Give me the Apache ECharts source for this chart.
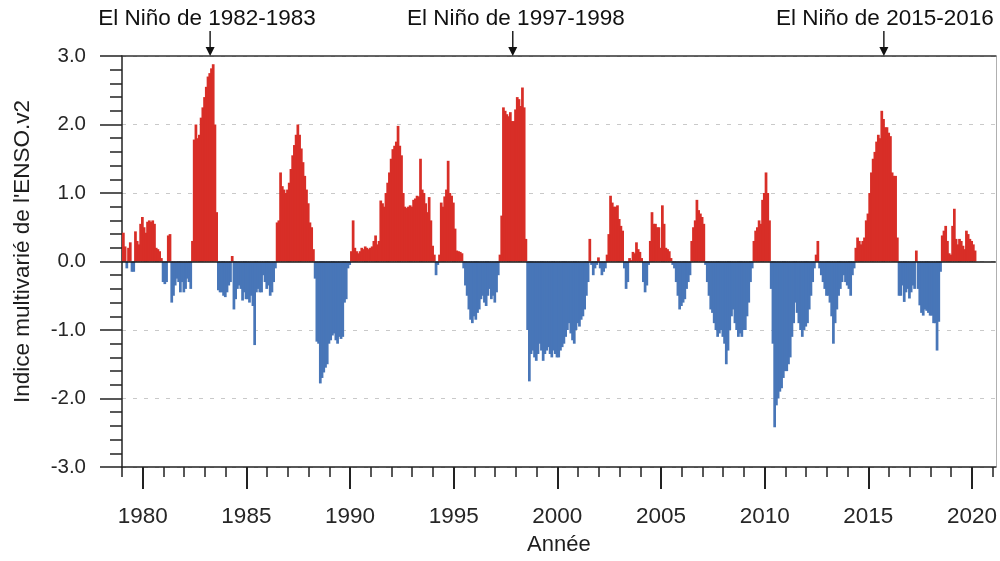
<!DOCTYPE html>
<html>
<head>
<meta charset="utf-8">
<script src="https://cdn.jsdelivr.net/npm/echarts@6/dist/echarts.min.js"></script>
<style>
  html, body { margin: 0; padding: 0; background: #fff; }
  #chart { width: 1000px; height: 561px; }
</style>
</head>
<body>
<div id="chart"></div>
<script>
// Multivariate ENSO Index (MEI.v2), monthly values, Jan 1979 onward
const mei1979 = [0.42, 0.22, -0.10, 0.20, 0.28, -0.15, -0.15, 0.44, 0.30, 0.25, 0.55, 0.65];
const mei1980 = [0.50, 0.42, 0.58, 0.60, 0.58, 0.60, 0.55, 0.20, 0.18, 0.15, 0.05, -0.30];
const mei1981 = [-0.33, -0.30, 0.38, 0.40, -0.60, -0.50, -0.35, -0.25, -0.30, -0.45, -0.30, -0.45];
const mei1982 = [-0.40, -0.25, -0.30, -0.40, 0.30, 1.78, 2.00, 1.80, 1.85, 2.10, 2.25, 2.40];
const mei1983 = [2.55, 2.70, 2.75, 2.82, 2.88, 2.00, 0.72, -0.42, -0.45, -0.45, -0.50, -0.52];
const mei1984 = [-0.45, -0.35, -0.30, 0.08, -0.70, -0.55, -0.40, -0.35, -0.40, -0.57, -0.45, -0.55];
const mei1985 = [-0.55, -0.60, -0.50, -0.65, -1.22, -0.45, -0.40, -0.45, -0.45, -0.20, -0.30, -0.40];
const mei1986 = [-0.35, -0.50, -0.45, -0.30, -0.10, 0.57, 0.60, 1.30, 1.10, 1.05, 1.00, 1.05];
const mei1987 = [1.15, 1.35, 1.55, 1.70, 1.85, 2.00, 1.85, 1.65, 1.45, 1.25, 1.05, 0.85];
const mei1988 = [0.57, 0.50, 0.18, -0.25, -1.17, -1.20, -1.78, -1.70, -1.62, -1.55, -1.50, -1.20];
const mei1989 = [-1.15, -1.08, -1.05, -1.15, -1.20, -1.10, -1.13, -1.10, -0.60, -0.55, -0.10, -0.05];
const mei1990 = [0.15, 0.60, 0.20, 0.15, 0.12, 0.15, 0.20, 0.18, 0.22, 0.20, 0.18, 0.20];
const mei1991 = [0.22, 0.30, 0.38, 0.25, 0.30, 0.89, 0.85, 0.80, 1.00, 1.15, 1.30, 1.50];
const mei1992 = [1.64, 1.69, 1.75, 1.98, 1.69, 1.55, 1.00, 0.80, 0.78, 0.80, 0.82, 0.80];
const mei1993 = [0.90, 0.92, 0.96, 0.95, 1.50, 1.05, 1.00, 0.85, 0.72, 0.94, 0.60, 0.23];
const mei1994 = [0.10, -0.20, -0.05, 0.10, 0.86, 0.80, 0.95, 1.05, 1.47, 1.00, 0.96, 0.86];
const mei1995 = [0.48, 0.16, 0.15, 0.14, 0.12, -0.10, -0.35, -0.50, -0.70, -0.85, -0.90, -0.80];
const mei1996 = [-0.85, -0.75, -0.70, -0.55, -0.50, -0.60, -0.65, -0.50, -0.40, -0.55, -0.50, -0.60];
const mei1997 = [-0.45, -0.20, 0.10, 0.67, 2.25, 2.20, 2.15, 2.12, 2.18, 2.05, 2.05, 2.22];
const mei1998 = [2.40, 2.37, 2.27, 2.54, 2.25, 0.33, -1.00, -1.75, -1.35, -1.30, -1.40, -1.45];
const mei1999 = [-1.35, -1.20, -1.30, -1.45, -1.35, -1.30, -1.25, -1.35, -1.40, -1.30, -1.35, -1.40];
const mei2000 = [-1.40, -1.30, -1.25, -1.20, -1.10, -1.00, -0.90, -1.05, -1.15, -1.20, -1.00, -0.90];
const mei2001 = [-0.95, -0.85, -0.80, -0.70, -0.50, -0.30, 0.33, -0.05, -0.20, -0.10, -0.05, 0.06];
const mei2002 = [-0.10, -0.20, -0.15, -0.10, 0.10, 0.40, 0.96, 0.86, 0.80, 0.80, 0.82, 0.62];
const mei2003 = [0.52, 0.45, -0.10, -0.40, -0.30, 0.05, 0.02, 0.14, 0.12, 0.28, 0.18, 0.14];
const mei2004 = [0.05, -0.30, -0.45, -0.35, -0.05, 0.30, 0.72, 0.55, 0.55, 0.50, 0.50, 0.20];
const mei2005 = [0.82, 0.55, 0.20, 0.18, 0.15, 0.05, -0.05, -0.10, -0.30, -0.50, -0.70, -0.65];
const mei2006 = [-0.60, -0.55, -0.40, -0.30, -0.20, 0.30, 0.50, 0.60, 0.90, 0.75, 0.70, 0.65];
const mei2007 = [0.55, -0.05, -0.30, -0.50, -0.70, -0.75, -0.90, -1.00, -1.10, -1.05, -1.00, -1.10];
const mei2008 = [-1.20, -1.50, -1.30, -1.00, -0.80, -0.70, -0.90, -1.00, -1.10, -1.05, -1.10, -1.00];
const mei2009 = [-1.00, -0.80, -0.60, -0.30, -0.10, 0.30, 0.45, 0.50, 0.60, 0.55, 0.90, 1.00];
const mei2010 = [1.30, 1.00, 0.60, -0.40, -1.20, -2.42, -2.10, -2.00, -1.90, -1.85, -1.70, -1.60];
const mei2011 = [-1.60, -1.50, -1.40, -1.10, -0.90, -0.60, -0.75, -0.90, -1.00, -1.10, -1.00, -0.95];
const mei2012 = [-0.90, -0.70, -0.50, -0.30, -0.10, 0.10, 0.30, -0.10, -0.20, -0.30, -0.40, -0.50];
const mei2013 = [-0.50, -0.60, -0.80, -1.20, -0.90, -0.70, -0.50, -0.40, -0.30, -0.20, -0.30, -0.35];
const mei2014 = [-0.40, -0.50, -0.20, -0.10, 0.20, 0.35, 0.30, 0.25, 0.30, 0.35, 0.60, 0.70];
const mei2015 = [1.00, 1.30, 1.50, 1.60, 1.75, 1.85, 1.80, 2.20, 2.08, 1.96, 1.96, 1.88];
const mei2016 = [1.83, 1.30, 1.25, 1.25, 0.35, -0.50, -0.50, -0.35, -0.59, -0.45, -0.40, -0.54];
const mei2017 = [-0.45, -0.35, -0.40, 0.16, -0.40, -0.64, -0.75, -0.79, -0.70, -0.72, -0.75, -0.79];
const mei2018 = [-0.79, -0.90, -0.90, -1.30, -0.88, -0.15, 0.38, 0.45, 0.52, 0.30, 0.12, 0.10];
const mei2019 = [0.52, 0.77, 0.33, 0.25, 0.33, 0.30, 0.23, 0.18, 0.45, 0.40, 0.33, 0.30];
const mei2020 = [0.25, 0.16];

const firstYear = 1979;
const yearlyValues = [
  mei1979, mei1980, mei1981, mei1982, mei1983, mei1984, mei1985, mei1986, mei1987, mei1988,
  mei1989, mei1990, mei1991, mei1992, mei1993, mei1994, mei1995, mei1996, mei1997, mei1998,
  mei1999, mei2000, mei2001, mei2002, mei2003, mei2004, mei2005, mei2006, mei2007, mei2008,
  mei2009, mei2010, mei2011, mei2012, mei2013, mei2014, mei2015, mei2016, mei2017, mei2018,
  mei2019, mei2020
];

// Axis ticks
const yearTicks = [1979, 1980, 1981, 1982, 1983, 1984, 1985, 1986, 1987, 1988, 1989, 1990,
  1991, 1992, 1993, 1994, 1995, 1996, 1997, 1998, 1999, 2000, 2001, 2002, 2003, 2004, 2005,
  2006, 2007, 2008, 2009, 2010, 2011, 2012, 2013, 2014, 2015, 2016, 2017, 2018, 2019, 2020, 2021];
const yearLabels = [1980, 1985, 1990, 1995, 2000, 2005, 2010, 2015, 2020];

// Major El Niño events annotated above the plot
const eventNames = ['El Niño de 1982-1983', 'El Niño de 1997-1998', 'El Niño de 2015-2016'];
const eventArrowAt = [1983.25, 1997.85, 2015.75];
const eventLabelAt = [1983.1, 1998.0, 2015.8];

const RED = '#d82e27';
const BLUE = '#4876b8';
const FONT = 'Liberation Sans, Arial, Helvetica, sans-serif';

// month-by-month bar records: [start of month (decimal year), value]
const monthly = [];
yearlyValues.forEach((vals, k) => {
  vals.forEach((v, m) => monthly.push([firstYear + k + m / 12, v]));
});

const X_MIN = 1979, X_MAX = 2021.15;
const axisColor = '#222';

const chart = echarts.init(document.getElementById('chart'), null, { renderer: 'canvas' });

const option = {
  animation: false,
  backgroundColor: '#fff',
  grid: { left: 122, right: 2.5, top: 56, bottom: 92, containLabel: false },
  xAxis: [
    {
      type: 'value', min: X_MIN, max: X_MAX, position: 'bottom',
      axisLine: { show: true, onZero: false, lineStyle: { color: axisColor, width: 1.5 } },
      axisTick: { show: true, length: 10, customValues: yearTicks, lineStyle: { color: axisColor, width: 1.5 } },
      axisLabel: { show: false },
      splitLine: { show: false }
    },
    {
      type: 'value', min: X_MIN, max: X_MAX, position: 'bottom',
      axisLine: { show: false, onZero: false },
      axisTick: { show: true, length: 22, customValues: yearLabels, lineStyle: { color: axisColor, width: 2 } },
      axisLabel: {
        show: true, customValues: yearLabels, margin: 38,
        formatter: v => String(v),
        fontSize: 22.5, color: '#262626', fontFamily: FONT
      },
      splitLine: { show: false },
      name: 'Année', nameLocation: 'middle', nameGap: 67,
      nameTextStyle: { fontSize: 22, color: '#1e1e1e', fontFamily: FONT }
    },
    {
      type: 'value', min: X_MIN, max: X_MAX, position: 'top',
      axisLine: { show: true, onZero: false, lineStyle: { color: '#333', width: 1.5 } },
      axisTick: { show: false }, axisLabel: { show: false }, splitLine: { show: false }
    }
  ],
  yAxis: [
    {
      type: 'value', min: -3, max: 3, interval: 1,
      axisLine: { show: true, onZero: false, lineStyle: { color: axisColor, width: 1.5 } },
      axisTick: { show: true, length: 22, lineStyle: { color: axisColor, width: 1.5 } },
      minorTick: { show: true, splitNumber: 5, length: 12, lineStyle: { color: axisColor, width: 1.5 } },
      axisLabel: {
        margin: 36, formatter: v => v.toFixed(1),
        fontSize: 20.5, color: '#262626', fontFamily: FONT
      },
      splitLine: { show: true, lineStyle: { color: '#c9c9c9', width: 1.2, type: [4, 7] } },
      name: "Indice multivarié de l'ENSO.v2", nameLocation: 'middle', nameGap: 88, nameRotate: 90,
      nameTextStyle: { fontSize: 22.5, color: '#1e1e1e', fontFamily: FONT, padding: [0, 0, 0, 20] }
    },
    {
      type: 'value', min: -3, max: 3, position: 'right',
      axisLine: { show: true, onZero: false, lineStyle: { color: '#b0b0b0', width: 1 } },
      axisTick: { show: false }, axisLabel: { show: false }, splitLine: { show: false }
    }
  ],
  series: [
    {
      type: 'custom',
      xAxisIndex: 0, yAxisIndex: 0,
      data: monthly,
      encode: { x: 0, y: 1 },
      renderItem: (params, api) => {
        const t = api.value(0);
        const v = api.value(1);
        const p0 = api.coord([t, 0]);
        const p1 = api.coord([t + 1 / 12, v]);
        return {
          type: 'rect',
          shape: {
            x: p0[0], y: Math.min(p0[1], p1[1]),
            width: p1[0] - p0[0] + 1, height: Math.abs(p1[1] - p0[1])
          },
          style: { fill: v >= 0 ? RED : BLUE }
        };
      },
      markLine: {
        silent: true, symbol: 'none', animation: false,
        label: { show: false },
        lineStyle: { color: '#1a1a1a', width: 1.6, type: 'solid' },
        data: [{ yAxis: 0 }]
      },
      z: 2
    }
  ]
};

chart.setOption(option);

// annotations placed through the axis scales
const yTop = chart.convertToPixel({ yAxisIndex: 0 }, 3);
const graphics = [];
eventNames.forEach((name, i) => {
  const ax = chart.convertToPixel({ xAxisIndex: 0 }, eventArrowAt[i]);
  const lx = chart.convertToPixel({ xAxisIndex: 0 }, eventLabelAt[i]);
  graphics.push({
    type: 'text', z: 10,
    style: {
      x: lx, y: 19, text: name, textAlign: 'center', textVerticalAlign: 'middle',
      font: '22.5px ' + FONT, fill: '#111'
    }
  });
  graphics.push({
    type: 'line', z: 10,
    shape: { x1: ax, y1: 31, x2: ax, y2: yTop - 7 },
    style: { stroke: '#111', lineWidth: 1.4 }
  });
  graphics.push({
    type: 'polygon', z: 10,
    shape: { points: [[ax - 4.5, yTop - 9], [ax + 4.5, yTop - 9], [ax, yTop]] },
    style: { fill: '#111' }
  });
});
chart.setOption({ graphic: graphics });
</script>
</body>
</html>
